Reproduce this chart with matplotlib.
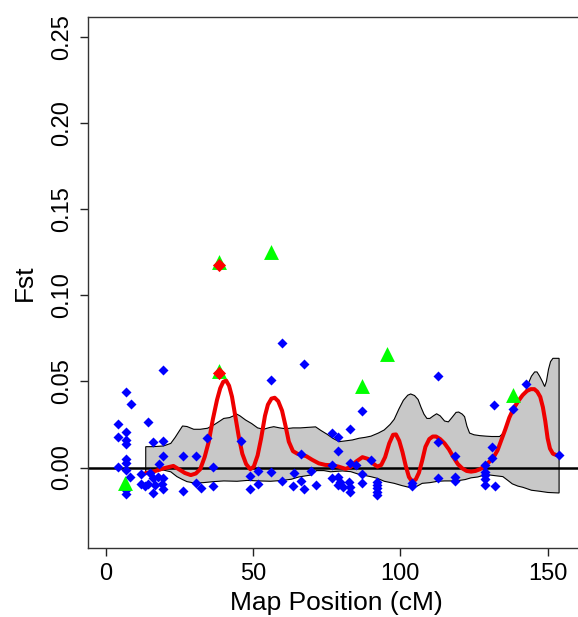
import matplotlib
matplotlib.use("Agg")
import matplotlib.pyplot as plt

plt.rcParams["font.family"] = ["Liberation Sans", "DejaVu Sans"]

# per-marker Fst values
pos_blue = [4.2, 4.2, 4.2, 6.7, 8.4, 6.7, 6.7, 6.7, 6.7, 6.7, 6.7, 6.7, 6.7,
            8.2, 11.8, 11.8, 13.3, 14.1, 14.4, 15.0, 15.8, 16.1, 16.1, 16.7,
            17.8, 18.1, 18.9, 19.5, 19.5, 19.5, 19.5, 19.5,
            26.2, 26.2, 30.7, 30.7, 32.4, 34.2, 36.5, 36.3,
            45.9, 49.0, 49.0, 51.7, 51.7,
            56.0, 56.0, 59.9, 59.8, 63.8, 63.4, 66.2, 67.2, 66.3, 67.1, 69.5, 71.2,
            76.6, 78.7, 82.8, 78.8, 76.9, 82.8, 76.9, 78.9, 79.4, 78.9, 80.5,
            82.6, 82.8, 82.8,
            84.8, 87.1, 87.1, 87.1, 90.0,
            92.2, 92.2, 92.2, 92.2, 92.2,
            103.9, 103.9,
            112.9, 112.9, 112.9,
            118.7, 118.7, 118.7,
            128.9, 128.9, 128.9, 128.9, 128.9, 131.2, 131.2, 131.8, 132.2,
            138.2, 142.7, 153.9]
fst_blue = [0.0253, 0.0179, 0.0005, 0.0437, 0.0367, 0.0206, 0.0157, 0.0138, 0.0050,
            0.0027, -0.0016, -0.0131, -0.0152,
            -0.0053, -0.0040, -0.0094, -0.0110, 0.0262, -0.0096, -0.0034, 0.0148,
            -0.0063, -0.0150, -0.0102,
            -0.0053, 0.0019, -0.0096, 0.0564, 0.0156, 0.0066, -0.0063, -0.0124,
            0.0065, -0.0137, 0.0065, -0.0092, -0.0121, 0.0172, 0.0005, -0.0105,
            0.0154, -0.0051, -0.0127, -0.0020, -0.0094,
            0.0510, -0.0026, 0.0723, -0.0080, -0.0034, -0.0106, 0.0077, 0.0601,
            -0.0076, -0.0126, -0.0020, -0.0102,
            0.0203, 0.0179, 0.0224, 0.0094, 0.0015, 0.0026, -0.0063, -0.0053,
            -0.0082, -0.0102, -0.0111,
            -0.0082, -0.0111, -0.0140,
            0.0015, 0.0330, -0.0038, -0.0088, 0.0044,
            -0.0082, -0.0100, -0.0120, -0.0140, -0.0158,
            -0.0092, -0.0108,
            0.0529, 0.0148, -0.0063,
            0.0065, -0.0053, -0.0078,
            0.0015, -0.0024, -0.0044, -0.0067, -0.0102, 0.0121, 0.0053, 0.0363,
            -0.0109,
            0.0338, 0.0486, 0.0071]

pos_green = [6.5, 38.5, 38.5, 55.9, 87.1, 95.6, 138.1]
fst_green = [-0.0092, 0.1195, 0.0560, 0.1254, 0.0473, 0.0659, 0.0421]

pos_red = [38.5, 38.5]
fst_red = [0.1176, 0.0547]

# smoothed Fst
pos_smooth = [13.3, 16.1, 19.5, 22.9, 25.2, 26.8, 28.8, 30.5, 32.0, 33.5, 34.9,
              36.3, 37.7, 38.8, 39.8, 40.8, 41.8, 42.8, 44.0, 45.1, 46.3, 47.6,
              49.0, 50.2, 51.5, 52.7, 54.0, 55.0, 56.2, 57.3, 58.5, 59.8, 61.0,
              62.1, 63.5, 65.0, 66.5, 68.0, 70.0, 72.3, 74.5, 76.9, 79.0, 81.4,
              83.1, 85.0, 87.1, 89.0, 90.8, 92.2, 93.5, 94.8, 96.2, 97.5, 98.5,
              99.6, 100.7, 101.8, 102.9, 104.0, 105.2, 106.3, 107.4, 108.5,
              109.8, 111.0, 112.1, 113.5, 115.0, 116.5, 118.0, 119.5, 121.0,
              122.5, 124.0, 125.5, 127.0, 128.5, 130.0, 131.5, 133.0, 134.3,
              135.6, 137.0, 138.5, 140.0, 141.5, 143.0, 144.3, 145.5, 146.5,
              147.5, 148.4, 149.2, 150.0, 150.8, 151.8, 153.0, 153.9]
fst_smooth = [-0.0034, -0.0024, -0.0005, 0.0009, -0.0015, -0.0032, -0.0044,
              -0.0035, -0.0010, 0.0060, 0.0150, 0.0280, 0.0392, 0.0460, 0.0497,
              0.0505, 0.0475, 0.0411, 0.0290, 0.0179, 0.0080, 0.0020, -0.0010,
              0.0005, 0.0070, 0.0170, 0.0300, 0.0365, 0.0400, 0.0405, 0.0385,
              0.0330, 0.0240, 0.0150, 0.0095, 0.0080, 0.0072, 0.0066, 0.0045,
              0.0024, 0.0015, 0.0013, 0.0005, -0.0008, 0.0003, 0.0035, 0.0060,
              0.0050, 0.0022, 0.0005, 0.0015, 0.0060, 0.0140, 0.0190, 0.0192,
              0.0155, 0.0090, 0.0010, -0.0055, -0.0082, -0.0070, -0.0030,
              0.0040, 0.0120, 0.0165, 0.0180, 0.0180, 0.0165, 0.0140, 0.0105,
              0.0060, 0.0020, -0.0005, -0.0020, -0.0024, -0.0020, -0.0010,
              0.0005, 0.0030, 0.0055, 0.0100, 0.0160, 0.0220, 0.0290, 0.0345,
              0.0385, 0.0420, 0.0445, 0.0455, 0.0455, 0.0440, 0.0410, 0.0350,
              0.0270, 0.0170, 0.0110, 0.0080, 0.0072, 0.0070]

# confidence envelope
pos_upper = [13.5, 16.0, 19.5, 22.0, 23.5, 25.0, 26.0, 27.5, 29.8, 32.0, 34.5,
             36.6, 38.5, 40.0, 42.0, 43.3, 44.3, 45.5, 47.4, 49.5, 51.5, 53.5,
             55.5, 57.0, 59.0, 61.0, 63.5, 66.0, 68.5, 71.2, 73.0, 75.2, 77.0,
             79.2, 81.5, 83.7, 86.0, 88.0, 90.0, 92.5, 94.5, 96.5, 97.9, 99.5,
             101.0, 102.5, 103.5, 104.8, 106.0, 107.0, 108.0, 109.0, 110.0,
             111.2, 112.3, 113.5, 115.0, 116.3, 117.5, 118.9, 119.8, 121.0,
             121.8, 122.6, 123.5, 125.0, 127.0, 129.1, 131.0, 133.7, 135.0,
             135.9, 137.7, 139.3, 140.5, 142.5, 143.5, 144.5, 145.6, 146.4,
             147.3, 148.2, 149.0, 149.6, 150.3, 151.0, 151.8, 153.9]
fst_upper = [0.0121, 0.0121, 0.0125, 0.0140, 0.0175, 0.0215, 0.0241, 0.0238,
             0.0222, 0.0222, 0.0228, 0.0247, 0.0268, 0.0285, 0.0290, 0.0300,
             0.0311, 0.0300, 0.0276, 0.0255, 0.0230, 0.0222, 0.0232, 0.0237,
             0.0230, 0.0225, 0.0230, 0.0230, 0.0233, 0.0236, 0.0215, 0.0192,
             0.0170, 0.0150, 0.0155, 0.0160, 0.0170, 0.0175, 0.0182, 0.0200,
             0.0218, 0.0250, 0.0280, 0.0340, 0.0390, 0.0420, 0.0427, 0.0418,
             0.0395, 0.0350, 0.0310, 0.0285, 0.0285, 0.0300, 0.0312, 0.0300,
             0.0270, 0.0265, 0.0290, 0.0320, 0.0322, 0.0310, 0.0295, 0.0240,
             0.0200, 0.0190, 0.0185, 0.0182, 0.0180, 0.0180, 0.0200, 0.0230,
             0.0310, 0.0355, 0.0390, 0.0440, 0.0490, 0.0530, 0.0555, 0.0555,
             0.0530, 0.0500, 0.0470, 0.0500, 0.0570, 0.0615, 0.0634, 0.0634]
pos_lower = [13.5, 16.0, 19.5, 22.0, 24.1, 26.0, 27.5, 30.0, 33.0, 36.6, 40.0,
             44.5, 48.0, 52.0, 55.9, 60.0, 63.0, 65.5, 68.0, 69.5, 70.6, 71.5,
             74.0, 76.3, 78.5, 80.3, 83.1, 86.0, 89.9, 92.2, 94.5, 97.9, 100.5,
             103.6, 105.5, 107.4, 110.0, 112.7, 115.0, 119.0, 122.0, 124.0,
             126.3, 129.1, 131.0, 134.8, 136.5, 138.0, 139.9, 141.6, 144.5,
             147.3, 150.1, 153.9]
fst_lower = [-0.0034, -0.0025, -0.0015, -0.0025, -0.0053, -0.0070, -0.0082,
             -0.0090, -0.0088, -0.0082, -0.0078, -0.0080, -0.0075, -0.0078,
             -0.0080, -0.0075, -0.0068, -0.0055, -0.0048, -0.0044, -0.0030,
             -0.0018, -0.0018, -0.0025, -0.0022, -0.0020, -0.0024, -0.0040,
             -0.0053, -0.0063, -0.0080, -0.0092, -0.0105, -0.0118, -0.0110,
             -0.0092, -0.0088, -0.0080, -0.0078, -0.0078, -0.0070, -0.0060,
             -0.0055, -0.0040, -0.0045, -0.0053, -0.0075, -0.0095, -0.0108,
             -0.0115, -0.0132, -0.0138, -0.0145, -0.0148]

xticks = [0, 50, 100, 150]
yticks = [0.00, 0.05, 0.10, 0.15, 0.20, 0.25]
ytick_labels = ["0.00", "0.05", "0.10", "0.15", "0.20", "0.25"]

fig = plt.figure(figsize=(5.78, 6.17), dpi=100)
ax = fig.add_axes([88 / 578, 69 / 617, 497 / 578, 600.3 / 617 - 69 / 617])

# envelope polygon: upper edge then lower edge reversed
env_x = pos_upper + pos_lower[::-1]
env_y = fst_upper + fst_lower[::-1]
ax.fill(env_x, env_y, facecolor="#c8c8c8", edgecolor="black", lw=0.8, zorder=1)

ax.axhline(0, color="black", lw=1.8, zorder=2)

ax.plot(pos_smooth, fst_smooth, color="#ee0000", lw=2.9, zorder=3,
        solid_joinstyle="round", solid_capstyle="round")

ax.scatter(pos_blue, fst_blue, marker="D", s=26, color="#0000ff",
           linewidths=0, zorder=4)
ax.scatter(pos_green, fst_green, marker="^", s=115, color="#00ff00",
           linewidths=0, zorder=5)
ax.scatter(pos_red, fst_red, marker="D", s=45, color="#ff0000",
           linewidths=0, zorder=6)

ax.set_xlim(-6.11, 162.7)
ax.set_ylim(-0.04675, 0.2618)
ax.set_xticks(xticks)
ax.set_yticks(yticks)
ax.set_yticklabels(ytick_labels, rotation=90, va="center")
ax.tick_params(direction="out", length=6, width=1, labelsize=17, pad=5,
               colors="#222222", labelcolor="black")
for sp in ax.spines.values():
    sp.set_color("#333333")
    sp.set_linewidth(1.0)

ax.set_xlabel("Map Position (cM)", fontsize=19, labelpad=4)
ax.set_ylabel("Fst", fontsize=19, labelpad=10)

fig.savefig("out.png", dpi=100)
